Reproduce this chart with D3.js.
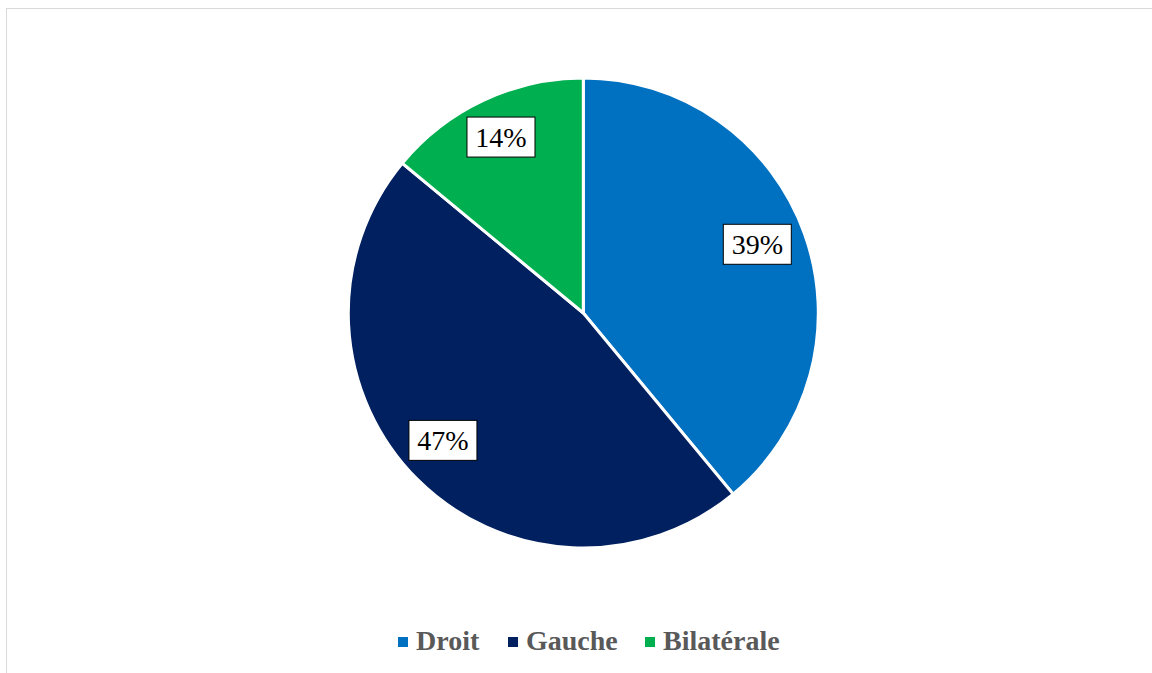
<!DOCTYPE html>
<html>
<head>
<meta charset="utf-8">
<script src="https://cdn.jsdelivr.net/npm/d3@7"></script>
<style>
  html, body { margin: 0; padding: 0; background: #fff; }
  svg { display: block; }
</style>
</head>
<body>
<svg id="chart" width="1152" height="673"></svg>
<script>
// Share of cases by side
const categories = ["Droit", "Gauche", "Bilatérale"];
const values = [39, 47, 14];
const colors = ["#0070C0", "#002060", "#00B050"];

const width = 1152, height = 673;
const cx = 583.3, cy = 313, radius = 235;
const serif = "'Liberation Serif', 'Times New Roman', serif";

const svg = d3.select("#chart");

// outer frame of the chart area
svg.append("rect")
  .attr("x", 6.5).attr("y", 8.5)
  .attr("width", 1160).attr("height", 700)
  .attr("fill", "none")
  .attr("stroke", "#d9d9d9")
  .attr("stroke-width", 1);

const data = categories.map((c, i) => ({ category: c, value: values[i], color: colors[i] }));

const pie = d3.pie().sort(null).value(d => d.value);
const arcs = pie(data);
const arc = d3.arc().innerRadius(0).outerRadius(radius);

const g = svg.append("g").attr("transform", `translate(${cx},${cy})`);

g.selectAll("path.slice")
  .data(arcs)
  .join("path")
  .attr("class", "slice")
  .attr("d", arc)
  .attr("fill", d => d.data.color)
  .attr("stroke", "#fff")
  .attr("stroke-width", 3)
  .attr("stroke-linejoin", "miter");

// Data labels placed inside the end of each slice: the box's outermost
// corner sits just inside the rim, then a small per-label nudge.
const boxW = 68, boxH = 40, edgeR = radius - 8;
const labelNudge = [[-3, -5], [-7, -6], [0, -1]];
function labelCenter(d, i) {
  const a = (d.startAngle + d.endAngle) / 2;
  const ux = Math.sin(a), uy = -Math.cos(a);
  const sx = ux >= 0 ? boxW / 2 : -boxW / 2;
  const sy = uy >= 0 ? boxH / 2 : -boxH / 2;
  // solve |t*u + s| = edgeR for t
  const b = 2 * (ux * sx + uy * sy);
  const c = sx * sx + sy * sy - edgeR * edgeR;
  const t = (-b + Math.sqrt(b * b - 4 * c)) / 2;
  return [t * ux + labelNudge[i][0], t * uy + labelNudge[i][1]];
}

const labels = g.selectAll("g.lbl")
  .data(arcs)
  .join("g")
  .attr("class", "lbl")
  .attr("transform", (d, i) => {
    const [x, y] = labelCenter(d, i);
    return `translate(${x},${y})`;
  });

labels.append("rect")
  .attr("x", -boxW / 2).attr("y", -boxH / 2)
  .attr("width", boxW).attr("height", boxH)
  .attr("fill", "#fff")
  .attr("stroke", "#000")
  .attr("stroke-width", 1);

labels.append("text")
  .attr("text-anchor", "middle")
  .attr("dy", "0.35em")
  .attr("font-family", serif)
  .attr("font-size", 28)
  .attr("fill", "#000")
  .text(d => d.data.value + "%");

// Legend
const legendX = [398, 508, 645];
const legend = svg.append("g").attr("class", "legend");
const items = legend.selectAll("g")
  .data(data)
  .join("g")
  .attr("transform", (d, i) => `translate(${legendX[i]},642)`);

items.append("rect")
  .attr("x", 0).attr("y", -5)
  .attr("width", 10).attr("height", 10)
  .attr("fill", d => d.color);

items.append("text")
  .attr("x", 18)
  .attr("y", 8)
  .attr("font-family", serif)
  .attr("font-weight", "bold")
  .attr("font-size", 28)
  .attr("fill", "#595959")
  .text(d => d.category);
</script>
</body>
</html>
